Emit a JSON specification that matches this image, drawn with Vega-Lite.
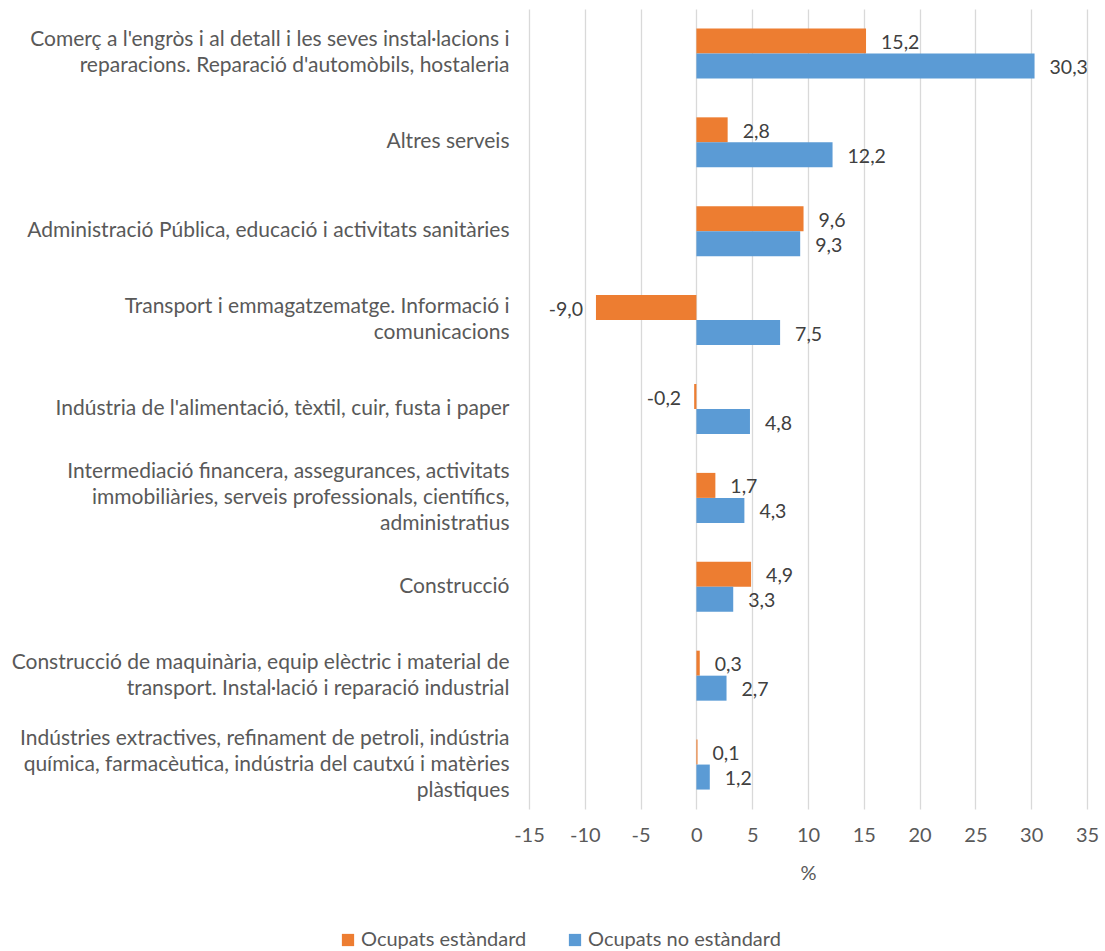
{
  "$schema": "https://vega.github.io/schema/vega-lite/v6.json",
  "width": 558,
  "height": 800,
  "autosize": "none",
  "padding": {"left": 529, "top": 9, "right": 18, "bottom": 142},
  "background": "white",
  "config": {
    "locale": {"number": {"decimal": ",", "thousands": ".", "grouping": [3], "currency": ["", " €"], "minus": "-"}},
    "view": {"stroke": null},
    "font": "Lato"
  },
  "data": {
    "values": [
      {"sector": "Comerç a l'engròs i al detall i les seves instal·lacions i|reparacions. Reparació d'automòbils, hostaleria", "serie": "Ocupats estàndard", "value": 15.2},
      {"sector": "Comerç a l'engròs i al detall i les seves instal·lacions i|reparacions. Reparació d'automòbils, hostaleria", "serie": "Ocupats no estàndard", "value": 30.3},
      {"sector": "Altres serveis", "serie": "Ocupats estàndard", "value": 2.8},
      {"sector": "Altres serveis", "serie": "Ocupats no estàndard", "value": 12.2},
      {"sector": "Administració Pública, educació i activitats sanitàries", "serie": "Ocupats estàndard", "value": 9.6},
      {"sector": "Administració Pública, educació i activitats sanitàries", "serie": "Ocupats no estàndard", "value": 9.3},
      {"sector": "Transport i emmagatzematge. Informació i|comunicacions", "serie": "Ocupats estàndard", "value": -9.0},
      {"sector": "Transport i emmagatzematge. Informació i|comunicacions", "serie": "Ocupats no estàndard", "value": 7.5},
      {"sector": "Indústria de l'alimentació, tèxtil, cuir, fusta i paper", "serie": "Ocupats estàndard", "value": -0.2},
      {"sector": "Indústria de l'alimentació, tèxtil, cuir, fusta i paper", "serie": "Ocupats no estàndard", "value": 4.8},
      {"sector": "Intermediació financera, assegurances, activitats|immobiliàries, serveis professionals, científics,|administratius", "serie": "Ocupats estàndard", "value": 1.7},
      {"sector": "Intermediació financera, assegurances, activitats|immobiliàries, serveis professionals, científics,|administratius", "serie": "Ocupats no estàndard", "value": 4.3},
      {"sector": "Construcció", "serie": "Ocupats estàndard", "value": 4.9},
      {"sector": "Construcció", "serie": "Ocupats no estàndard", "value": 3.3},
      {"sector": "Construcció de maquinària, equip elèctric i material de|transport. Instal·lació i reparació industrial", "serie": "Ocupats estàndard", "value": 0.3},
      {"sector": "Construcció de maquinària, equip elèctric i material de|transport. Instal·lació i reparació industrial", "serie": "Ocupats no estàndard", "value": 2.7},
      {"sector": "Indústries extractives, refinament de petroli, indústria|química, farmacèutica, indústria del cautxú i matèries|plàstiques", "serie": "Ocupats estàndard", "value": 0.1},
      {"sector": "Indústries extractives, refinament de petroli, indústria|química, farmacèutica, indústria del cautxú i matèries|plàstiques", "serie": "Ocupats no estàndard", "value": 1.2}
    ]
  },
  "encoding": {
    "y": {
      "field": "sector",
      "type": "nominal",
      "sort": null,
      "scale": {"paddingInner": 0.4375, "paddingOuter": 0.21875},
      "axis": {
        "title": null,
        "domain": false,
        "ticks": false,
        "grid": false,
        "labelPadding": 20,
        "labelFontSize": 21,
        "labelColor": "#595959",
        "labelLimit": 700,
        "labelLineHeight": 26,
        "labelOffset": {"expr": "-(length(split(datum.value, '|')) - 1) * 13"},
        "labelExpr": "split(datum.value, '|')"
      }
    },
    "yOffset": {
      "field": "serie",
      "type": "nominal",
      "sort": ["Ocupats estàndard", "Ocupats no estàndard"],
      "scale": {"paddingInner": 0, "paddingOuter": 0}
    },
    "x": {
      "field": "value",
      "type": "quantitative",
      "scale": {"domain": [-15, 35], "nice": false, "zero": true},
      "axis": {
        "values": [-15, -10, -5, 0, 5, 10, 15, 20, 25, 30, 35],
        "grid": true,
        "gridColor": "#d9d9d9",
        "gridWidth": 1.3,
        "domain": false,
        "ticks": false,
        "labelFlush": false,
        "labelOverlap": false,
        "labelPadding": 16,
        "labelFontSize": 20,
        "labelColor": "#595959",
        "title": "%",
        "titleFontSize": 20,
        "titleFontWeight": "normal",
        "titleColor": "#595959",
        "titlePadding": 18
      }
    }
  },
  "layer": [
    {
      "mark": {"type": "bar"},
      "encoding": {
        "color": {
          "field": "serie",
          "type": "nominal",
          "scale": {"domain": ["Ocupats estàndard", "Ocupats no estàndard"], "range": ["#ED7D31", "#5B9BD5"]},
          "legend": {
            "orient": "none",
            "legendX": -191,
            "legendY": 921,
            "direction": "horizontal",
            "title": null,
            "symbolType": "square",
            "symbolSize": 150,
            "symbolStrokeWidth": 0,
            "labelFontSize": 20,
            "labelColor": "#595959",
            "labelLimit": 400,
            "columnPadding": 38,
            "labelOffset": 3
          }
        }
      }
    },
    {
      "transform": [{"filter": "datum.value >= 0"}],
      "mark": {"type": "text", "align": "left", "baseline": "middle", "dx": 15, "dy": 2, "fontSize": 19.5, "color": "#404040"},
      "encoding": {"text": {"field": "value", "type": "quantitative", "format": ".1f"}}
    },
    {
      "transform": [{"filter": "datum.value < 0"}],
      "mark": {"type": "text", "align": "right", "baseline": "middle", "dx": -13, "dy": 2, "fontSize": 19.5, "color": "#404040"},
      "encoding": {"text": {"field": "value", "type": "quantitative", "format": ".1f"}}
    }
  ]
}
